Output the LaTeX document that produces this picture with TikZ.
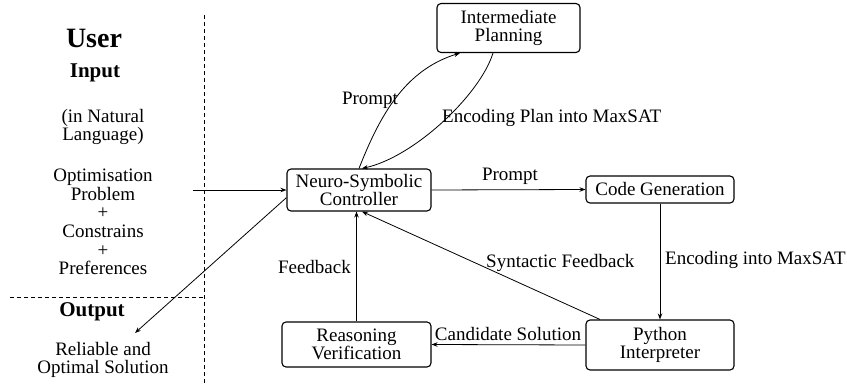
\documentclass[tikz,border=0pt]{standalone}
\usepackage{fontspec}
\setmainfont{Liberation Serif}
\usetikzlibrary{arrows.meta}
\tikzset{
  box/.style={draw, line width=1.1pt, rounded corners=4pt, align=center, inner sep=1pt},
  conn/.style={line width=0.8pt, -{Stealth[length=6pt,width=4.5pt]}},
  lbl/.style={inner sep=0pt, align=center},
  sep/.style={dashed, line width=0.8pt, dash pattern=on 4pt off 3pt},
}
\begin{document}
\begin{tikzpicture}[x=1pt, y=-1pt, font=\fontsize{19}{18.6}\selectfont]
\useasboundingbox (0,0) rectangle (847,385);
% separators
\draw[sep] (204,15) -- (204,385);
\draw[sep] (10,297) -- (204,297);
% left column
\node[lbl, font=\fontsize{28}{28}\selectfont\bfseries] (user) at (94,38) {User};
\node[lbl, font=\fontsize{21}{21}\selectfont\bfseries] (input) at (95,73) {Input};
\node[lbl] (nat) at (103,127) {(in Natural\\Language)};
\node[lbl] (prob) at (103,222) {Optimisation\\Problem\\+\\Constrains\\+\\Preferences};
\node[lbl, font=\fontsize{21}{21}\selectfont\bfseries] (output) at (92,312) {Output};
\node[lbl] (sol) at (103,360) {Reliable and\\Optimal Solution};
% boxes
\node[box, minimum width=144pt, minimum height=42pt] (ctrl) at (359,190) {Neuro-Symbolic\\Controller};
\node[box, minimum width=143pt, minimum height=49pt] (ip) at (508.5,28) {Intermediate\\Planning};
\node[box, minimum width=148pt, minimum height=27pt] (cg) at (660,189.5) {Code Generation};
\node[box, minimum width=148pt, minimum height=50pt] (py) at (660,345) {Python\\Interpreter};
\node[box, minimum width=149pt, minimum height=45pt] (rv) at (356.5,344.5) {Reasoning\\Verification};
% free ends
\coordinate (inp) at (193,190);
\coordinate (outp) at (135,333);
% connectors
\draw[conn] (inp) -- (ctrl.west);
\draw[conn] (ctrl.186) -- (outp);
\draw[conn] (ctrl.north) .. controls (380,115) and (405,70) .. (ip.south west -| 460,0);
\draw[conn] (ip.south west -| 493,0) .. controls (480,95) and (414,157) .. (ctrl.north -| 362,0);
\draw[conn] (ctrl.east) -- (cg.west);
\draw[conn] (cg.south) -- (py.north);
\draw[conn] (py.north west -| 600,0) -- ([xshift=3pt]ctrl.south);
\draw[conn] (rv.north) -- (rv.north |- ctrl.south);
\draw[conn] (py.west) -- (rv.east);
% labels
\node[lbl] (l1) at (370,100) {Prompt};
\node[lbl, anchor=west] (l2) at (442,118) {Encoding Plan into MaxSAT};
\node[lbl] (l3) at (510,176) {Prompt};
\node[lbl, anchor=west] (l4) at (665,260) {Encoding into MaxSAT};
\node[lbl, anchor=west] (l5) at (486,263) {Syntactic Feedback};
\node[lbl, anchor=east] (l6) at (351,267) {Feedback};
\node[lbl] (l7) at (508,334) {Candidate Solution};
\end{tikzpicture}
\end{document}
